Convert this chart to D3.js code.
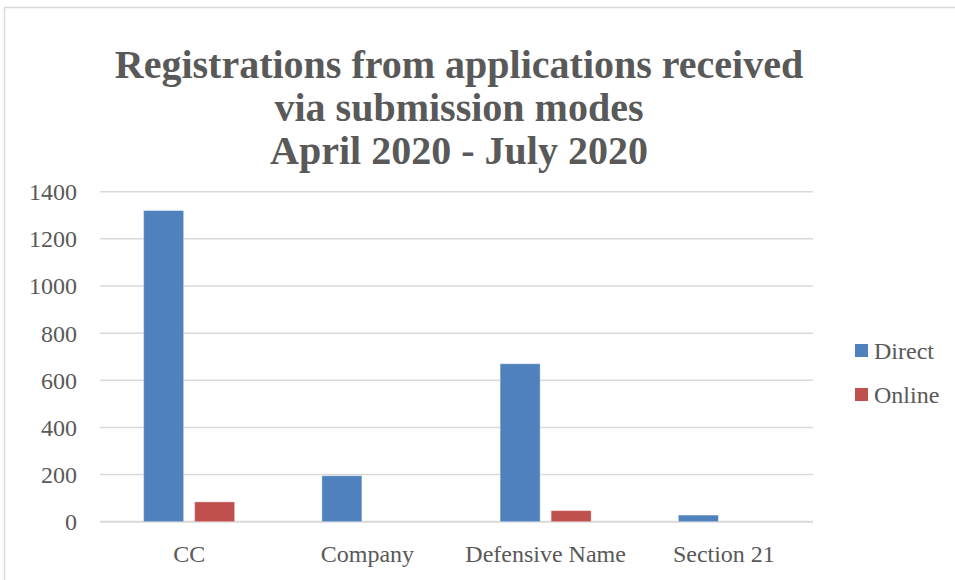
<!DOCTYPE html>
<html>
<head>
<meta charset="utf-8">
<script src="https://cdn.jsdelivr.net/npm/d3@7"></script>
<style>
  html, body { margin: 0; padding: 0; background: #ffffff; }
  svg { display: block; }
</style>
</head>
<body>
<svg id="chart" width="955" height="580"></svg>
<script>
const categories = ["CC", "Company", "Defensive Name", "Section 21"];
const seriesNames = ["Direct", "Online"];
const directValues = [1320, 195, 670, 28];
const onlineValues = [84, 0, 47, 0];
const yTicks = [0, 200, 400, 600, 800, 1000, 1200, 1400];
const titleLines = ["Registrations from applications received", "via submission modes", "April 2020 - July 2020"];
const seriesColors = ["#4F81BD", "#C0504D"];

const svg = d3.select("#chart");
const textColor = "#595959";
const serif = "'Liberation Serif', 'Times New Roman', serif";

// chart border
svg.append("rect")
  .attr("x", 4.5).attr("y", 7.5)
  .attr("width", 1000).attr("height", 1000)
  .attr("fill", "none").attr("stroke", "#D9D9D9").attr("stroke-width", 1.5);

// title
const titleG = svg.append("g");
const titleBaselines = [78, 121, 164];
titleLines.forEach((t, i) => {
  titleG.append("text")
    .attr("x", 459).attr("y", titleBaselines[i])
    .attr("text-anchor", "middle")
    .attr("font-family", serif)
    .attr("font-weight", "bold")
    .attr("font-size", 40)
    .attr("fill", textColor)
    .text(t);
});

const plot = { left: 100, right: 813, top: 191.7, bottom: 521.7 };

const y = d3.scaleLinear().domain([0, 1400]).range([plot.bottom, plot.top]);
const x0 = d3.scaleBand().domain(categories).range([plot.left, plot.right]).paddingInner(0).paddingOuter(0);
const groupW = 91;
const x1 = d3.scaleBand().domain(seriesNames).range([0, groupW]).paddingInner(11 / 51).paddingOuter(0);

// gridlines
svg.append("g").selectAll("line").data(yTicks).join("line")
  .attr("x1", plot.left).attr("x2", plot.right)
  .attr("y1", d => y(d)).attr("y2", d => y(d))
  .attr("stroke", "#D9D9D9").attr("stroke-width", d => d === 0 ? 2 : 1.5);

// y axis labels
const yAxis = d3.axisLeft(y).tickValues(yTicks).tickSize(0).tickPadding(0).tickFormat(d3.format("d"));
const yG = svg.append("g").attr("transform", `translate(77,0)`).call(yAxis);
yG.select(".domain").remove();
yG.selectAll("text")
  .attr("font-family", serif).attr("font-size", 24).attr("fill", textColor)
  .attr("x", 0).attr("dy", "0.33em");

// bars
const rows = categories.map((c, i) => ({ cat: c, vals: [directValues[i], onlineValues[i]] }));
const groups = svg.append("g").selectAll("g").data(rows).join("g")
  .attr("transform", d => `translate(${x0(d.cat) + (x0.bandwidth() - groupW) / 2},0)`);
groups.selectAll("rect").data(d => d.vals.map((v, j) => ({ name: seriesNames[j], v, j })).filter(e => e.v > 0))
  .join("rect")
  .attr("x", d => x1(d.name))
  .attr("width", x1.bandwidth())
  .attr("y", d => y(d.v))
  .attr("height", d => y(0) - y(d.v))
  .attr("fill", d => seriesColors[d.j])
  .attr("stroke", "#ffffff").attr("stroke-opacity", 0.35).attr("stroke-width", 1);

// x axis labels
const xAxis = d3.axisBottom(x0).tickSize(0).tickPadding(0);
const xG = svg.append("g").attr("transform", `translate(0,${plot.bottom})`).call(xAxis);
xG.select(".domain").remove();
xG.selectAll("text")
  .attr("font-family", serif).attr("font-size", 24).attr("fill", textColor)
  .attr("y", 40).attr("dy", 0);

// legend
const legend = svg.append("g").selectAll("g").data(seriesNames).join("g")
  .attr("transform", (d, i) => `translate(855,${344 + i * 44})`);
legend.append("rect").attr("width", 13).attr("height", 13)
  .attr("fill", (d, i) => seriesColors[i]);
legend.append("text").attr("x", 19).attr("y", 15)
  .attr("font-family", serif).attr("font-size", 24).attr("fill", textColor)
  .text(d => d);
</script>
</body>
</html>
